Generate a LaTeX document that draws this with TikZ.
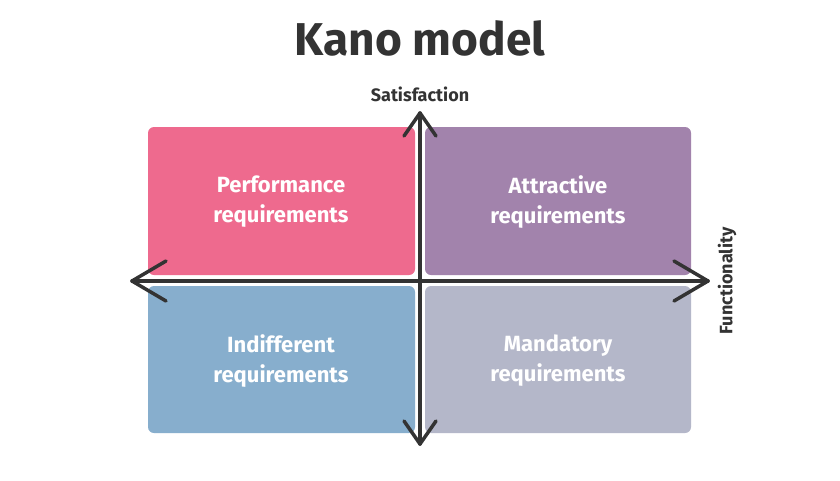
\documentclass[tikz,border=0pt]{standalone}
\usepackage{fontspec}
\setmainfont{Fira Sans}
\begin{document}
\begin{tikzpicture}[x=1pt,y=-1pt,
  box/.style={rounded corners=6pt,draw=none},
  lbl/.style={text=white,font=\fontsize{22}{30}\selectfont\bfseries,align=center},
  ax/.style={line width=3.5pt,draw=black!80,line cap=round,line join=round}]
\definecolor{cpink}{HTML}{EE6A8E}
\definecolor{cpurp}{HTML}{A283AC}
\definecolor{cblue}{HTML}{87AECD}
\definecolor{cgray}{HTML}{B4B7C9}
\fill[white] (0,0) rectangle (840,480);
\useasboundingbox (0,0) rectangle (840,480);
\fill[box,cpink] (148,127) rectangle (415,275);
\fill[box,cpurp] (425,127) rectangle (691,275);
\fill[box,cblue] (148,286) rectangle (415,433);
\fill[box,cgray] (425,286) rectangle (691,433);
\node[lbl] (pr) at (281,202) {Performance\\requirements};
\node[lbl] (ar) at (558,202) {Attractive\\requirements};
\node[lbl] (ir) at (281,361) {Indifferent\\requirements};
\node[lbl] (mr) at (558,361) {Mandatory\\requirements};
\node[font=\fontsize{46}{50}\selectfont\bfseries,text=black!80] (t) at (420,38) {Kano model};
\node[font=\fontsize{18}{20}\selectfont\bfseries,text=black!80] (s) at (420,94) {Satisfaction};
\node[font=\fontsize{18}{20}\selectfont\bfseries,text=black!80,rotate=90] (f) at (727,281) {Functionality};
\coordinate (L) at (132,281); \coordinate (R) at (708,281);
\coordinate (T) at (420,113); \coordinate (B) at (420,444);
\draw[ax] (L) -- (R);
\draw[ax] (T) -- (B);
\draw[ax] (166,261) -- (L) -- (166,301);
\draw[ax] (674,261) -- (R) -- (674,301);
\draw[ax] (404,136) -- (T) -- (436,136);
\draw[ax] (404,421) -- (B) -- (436,421);
\end{tikzpicture}
\end{document}
